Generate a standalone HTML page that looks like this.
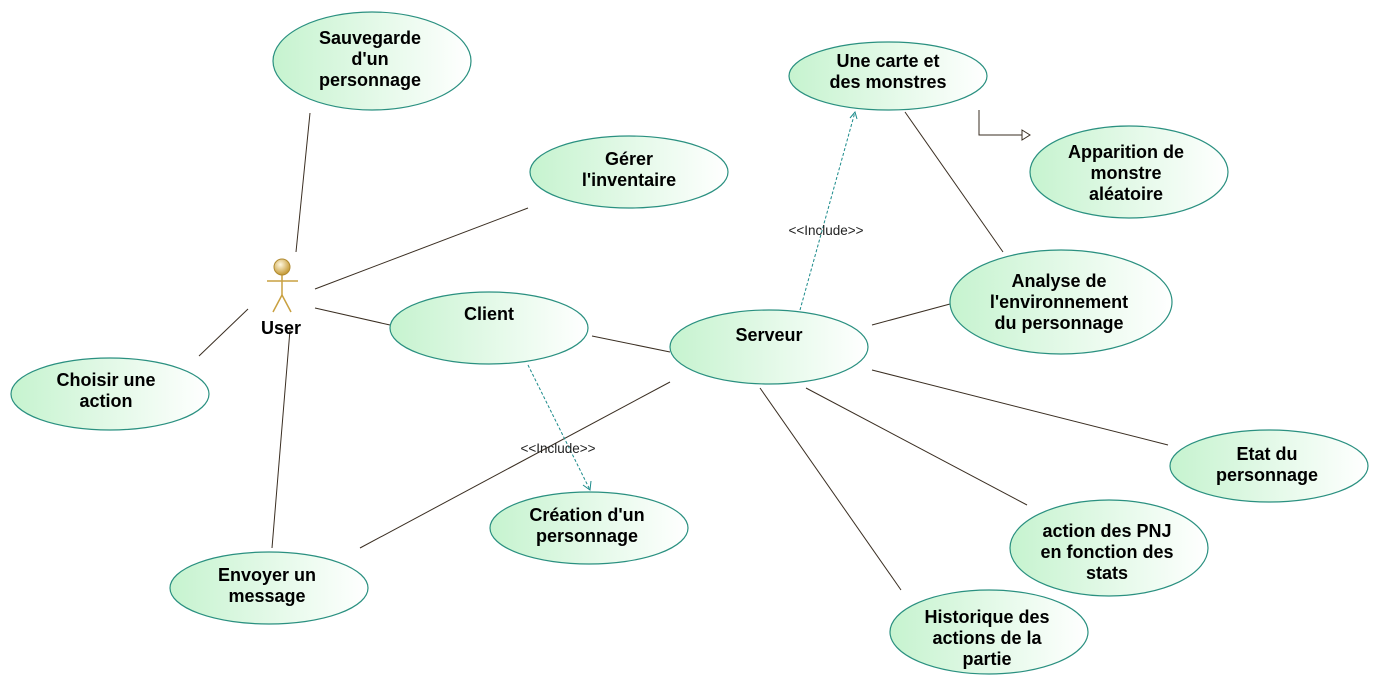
<!DOCTYPE html>
<html><head><meta charset="utf-8"><style>html,body{margin:0;padding:0;background:#fff}svg{display:block}</style></head><body>
<svg width="1380" height="685" viewBox="0 0 1380 685" xmlns="http://www.w3.org/2000/svg" font-family="Liberation Sans, sans-serif">
<defs>
<linearGradient id="g" x1="0" y1="0" x2="1" y2="0"><stop offset="0" stop-color="#c6f3cf"/><stop offset="1" stop-color="#ffffff"/></linearGradient>
<radialGradient id="h" cx="0.4" cy="0.35" r="0.6"><stop offset="0" stop-color="#fff8e0"/><stop offset="1" stop-color="#c9a040"/></radialGradient>
</defs>
<g stroke="#3a2e22" stroke-width="1" fill="none">
<line x1="310" y1="113" x2="296" y2="252"/>
<line x1="315" y1="289" x2="528" y2="208"/>
<line x1="315" y1="308" x2="390" y2="325"/>
<line x1="248" y1="309" x2="199" y2="356"/>
<line x1="290" y1="330" x2="272" y2="548"/>
<line x1="592" y1="336" x2="670" y2="352"/>
<line x1="360" y1="548" x2="670" y2="382"/>
<line x1="905" y1="112" x2="1003" y2="252"/>
<line x1="872" y1="325" x2="950" y2="304"/>
<line x1="872" y1="370" x2="1168" y2="445"/>
<line x1="806" y1="388" x2="1027" y2="505"/>
<line x1="760" y1="388" x2="901" y2="590"/>
<polyline points="979,110 979,135 1022,135"/>
<polygon points="1022,130 1030,135 1022,140" fill="#fff"/>
</g>
<g stroke="#1a8a8a" stroke-width="1" fill="none" stroke-dasharray="3,2">
<line x1="528" y1="365" x2="590" y2="490"/>
<line x1="800" y1="310" x2="855" y2="112"/>
</g>
<g stroke="#1a8a8a" stroke-width="1" fill="none">
<polyline points="583,485 590,490 591,481"/>
<polyline points="850,118 855,112 857,119"/>
</g>
<g font-size="13.5" fill="#222" text-anchor="middle">
<text x="558" y="453">&lt;&lt;Include&gt;&gt;</text>
<text x="826" y="235">&lt;&lt;Include&gt;&gt;</text>
</g>
<g fill="url(#g)" stroke="#2a9080" stroke-width="1.2">
<ellipse cx="372" cy="61" rx="99" ry="49"/>
<ellipse cx="629" cy="172" rx="99" ry="36"/>
<ellipse cx="888" cy="76" rx="99" ry="34"/>
<ellipse cx="1129" cy="172" rx="99" ry="46"/>
<ellipse cx="1061" cy="302" rx="111" ry="52"/>
<ellipse cx="489" cy="328" rx="99" ry="36"/>
<ellipse cx="769" cy="347" rx="99" ry="37"/>
<ellipse cx="110" cy="394" rx="99" ry="36"/>
<ellipse cx="589" cy="528" rx="99" ry="36"/>
<ellipse cx="1269" cy="466" rx="99" ry="36"/>
<ellipse cx="1109" cy="548" rx="99" ry="48"/>
<ellipse cx="269" cy="588" rx="99" ry="36"/>
<ellipse cx="989" cy="632" rx="99" ry="42"/>
</g>
<g stroke="#c9a040" stroke-width="1.5" fill="none">
<line x1="282" y1="275" x2="282" y2="295"/>
<line x1="267" y1="281" x2="298" y2="281"/>
<line x1="282" y1="295" x2="273" y2="312"/>
<line x1="282" y1="295" x2="291" y2="312"/>
</g>
<circle cx="282" cy="267" r="8" fill="url(#h)" stroke="#b08a30"/>
<g font-size="18" font-weight="bold" fill="#000" text-anchor="middle">
<text x="281" y="334">User</text>
<text x="370" y="44">Sauvegarde</text><text x="370" y="65">d'un</text><text x="370" y="86">personnage</text>
<text x="629" y="165">Gérer</text><text x="629" y="186">l'inventaire</text>
<text x="888" y="67">Une carte et</text><text x="888" y="88">des monstres</text>
<text x="1126" y="158">Apparition de</text><text x="1126" y="179">monstre</text><text x="1126" y="200">aléatoire</text>
<text x="1059" y="287">Analyse de</text><text x="1059" y="308">l'environnement</text><text x="1059" y="329">du personnage</text>
<text x="489" y="320">Client</text>
<text x="769" y="341">Serveur</text>
<text x="106" y="386">Choisir une</text><text x="106" y="407">action</text>
<text x="587" y="521">Création d'un</text><text x="587" y="542">personnage</text>
<text x="1267" y="460">Etat du</text><text x="1267" y="481">personnage</text>
<text x="1107" y="537">action des PNJ</text><text x="1107" y="558">en fonction des</text><text x="1107" y="579">stats</text>
<text x="267" y="581">Envoyer un</text><text x="267" y="602">message</text>
<text x="987" y="623">Historique des</text><text x="987" y="644">actions de la</text><text x="987" y="665">partie</text>
</g>
</svg>
</body></html>
